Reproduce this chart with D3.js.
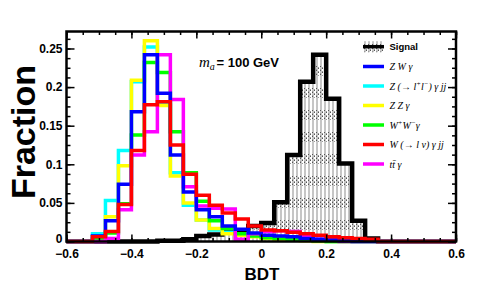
<!DOCTYPE html>
<html><head><meta charset="utf-8">
<script src="https://cdn.jsdelivr.net/npm/d3@7"></script>
<style>body{margin:0;background:#fff;} svg{display:block;}</style>
</head><body>
<svg id="c" width="477" height="307"></svg>
<script>
// ---- data ----
const binEdges = [-0.6,-0.56,-0.52,-0.48,-0.44,-0.4,-0.36,-0.32,-0.28,-0.24,-0.2,-0.16,-0.12,-0.08,-0.04,0,
                  0.04,0.08,0.12,0.16,0.2,0.24,0.28,0.32,0.36,0.4,0.44,0.48,0.52,0.56,0.6];
const signal = [0,0,0,0,0,0,0,0.001,0.001,0.003,0.007,0.009,0.012,0.014,0.02,0.024,0.051,0.112,0.207,0.242,0.185,0.101,0.027,0.004,0,0,0,0,0,0];
const zwg    = [0,0,0.007,0.027,0.074,0.168,0.242,0.192,0.112,0.064,0.041,0.032,0.02,0.016,0.011,0.008,0.007,0.006,0.004,0.003,0.002,0.001,0,0,0,0,0,0,0,0];
const zllgjj = [0,0,0.01,0.053,0.118,0.207,0.252,0.177,0.089,0.047,0.028,0.015,0.012,0.01,0.008,0.006,0.004,0.003,0.002,0.001,0,0,0,0,0,0,0,0,0,0];
const zzg    = [0,0,0.006,0.032,0.098,0.209,0.26,0.176,0.085,0.05,0.028,0.017,0.01,0.008,0.006,0.004,0.003,0.002,0.001,0,0,0,0,0,0,0,0,0,0,0];
const wwg    = [0,0,0.003,0.011,0.049,0.138,0.232,0.219,0.142,0.089,0.052,0.027,0.017,0.01,0.007,0.005,0.004,0.003,0.002,0.001,0,0,0,0,0,0,0,0,0,0];
const wlvgjj = [0,0,0.006,0.013,0.048,0.118,0.177,0.181,0.125,0.087,0.06,0.047,0.037,0.029,0.02,0.015,0.014,0.012,0.01,0.008,0.006,0.005,0.004,0.003,0,0,0,0,0,0];
const ttg    = [0,0,0,0.004,0.041,0.112,0.142,0.242,0.184,0.071,0.046,0.043,0.042,0.003,0.01,0.013,0.014,0.013,0.006,0.003,0.002,0,0,0,0,0,0,0,0,0];
const seriesLabels = ["Signal","Z W γ","Z (→ l^{+}l^{−}) γ jj","Z Z γ","W^{+}W^{−}γ","W (→ l ν) γ jj","tt\u0304 γ"];
const xTicks = [-0.6,-0.4,-0.2,0,0.2,0.4,0.6];
const yTicks = [0,0.05,0.1,0.15,0.2,0.25];

// ---- layout ----
const svg = d3.select("#c");
const L=66.5, R=456, T=31.5, B=241.5;
const x = d3.scaleLinear().domain([-0.6,0.6]).range([L,R]);
const y = d3.scaleLinear().domain([0,0.272]).range([B,T]);

// pattern for signal fill
const defs = svg.append("defs");
const pat = defs.append("pattern").attr("id","sigfill").attr("patternUnits","userSpaceOnUse")
  .attr("width",4).attr("height",22);
pat.append("rect").attr("width",4).attr("height",22).attr("fill","#fff");
pat.append("rect").attr("x",0).attr("y",0).attr("width",2).attr("height",22).attr("fill","#c6c6c6");
for (let r=0;r<10;r+=2){
  pat.append("rect").attr("x",(r%4===0)?0:2).attr("y",r).attr("width",1).attr("height",1).attr("fill","#555");
  pat.append("rect").attr("x",(r%4===0)?2:0).attr("y",r+1).attr("width",1).attr("height",1).attr("fill","#999");
}

function stepPoints(vals){
  const pts=[[x(binEdges[0]),y(0)]];
  vals.forEach((v,i)=>{pts.push([x(binEdges[i]),y(v)]);pts.push([x(binEdges[i+1]),y(v)]);});
  pts.push([x(binEdges[binEdges.length-1]),y(0)]);
  return pts;
}
const line = d3.line();

// signal fill + outline
svg.append("path").attr("d",line(stepPoints(signal))+"Z").attr("fill","url(#sigfill)").attr("stroke","none");
svg.append("path").attr("d",line(stepPoints(signal))).attr("fill","none").attr("stroke","#000").attr("stroke-width",4.5).attr("stroke-linejoin","miter");

const bkg = [[zllgjj,"#00ffff"],[zzg,"#ffff00"],[wwg,"#00ff00"],[ttg,"#ff00ff"],[zwg,"#0000ff"],[wlvgjj,"#ff0000"]];
bkg.forEach(([vals,col])=>{
  svg.append("path").attr("d",line(stepPoints(vals))).attr("fill","none").attr("stroke",col).attr("stroke-width",3.5);
});

// ---- axes ----
const fmtX = d=> d===0?"0":(d<0?"\u2212":"")+Math.abs(d).toFixed(1);
const fmtY = d=> d===0?"0":String(+d.toFixed(2));
const xMinor = d3.range(0,25).map(i=>-0.6+i*0.05);
const yMinor = d3.range(0,22).map(i=>i*0.0125);
function styleAx(g){g.select(".domain").remove();g.selectAll("line").attr("stroke","#000").attr("stroke-width",1.5);
  g.selectAll("text").attr("fill","#000").attr("font-family","Liberation Sans, Arial, sans-serif").attr("font-size",12).attr("font-weight","bold");}
svg.append("g").attr("transform",`translate(0,${B})`).call(d3.axisBottom(x).tickValues(xTicks).tickFormat(fmtX).tickSizeInner(-7).tickSizeOuter(0).tickPadding(8)).call(styleAx);
svg.append("g").attr("transform",`translate(0,${B})`).call(d3.axisBottom(x).tickValues(xMinor).tickFormat("").tickSizeInner(-3.5).tickSizeOuter(0)).call(styleAx);
svg.append("g").attr("transform",`translate(0,${T})`).call(d3.axisTop(x).tickValues(xTicks).tickFormat("").tickSizeInner(-7).tickSizeOuter(0)).call(styleAx);
svg.append("g").attr("transform",`translate(0,${T})`).call(d3.axisTop(x).tickValues(xMinor).tickFormat("").tickSizeInner(-3.5).tickSizeOuter(0)).call(styleAx);
const yAx = svg.append("g").attr("transform",`translate(${L},0)`).call(d3.axisLeft(y).tickValues(yTicks).tickFormat(fmtY).tickSizeInner(-8).tickSizeOuter(0).tickPadding(4)).call(styleAx);
yAx.selectAll(".tick").filter(d=>d===0).select("text").attr("dy","0.1em");
svg.append("g").attr("transform",`translate(${L},0)`).call(d3.axisLeft(y).tickValues(yMinor).tickFormat("").tickSizeInner(-4).tickSizeOuter(0)).call(styleAx);
svg.append("g").attr("transform",`translate(${R},0)`).call(d3.axisRight(y).tickValues(yTicks).tickFormat("").tickSizeInner(-8).tickSizeOuter(0)).call(styleAx);
svg.append("g").attr("transform",`translate(${R},0)`).call(d3.axisRight(y).tickValues(yMinor).tickFormat("").tickSizeInner(-4).tickSizeOuter(0)).call(styleAx);
svg.append("rect").attr("x",L).attr("y",T).attr("width",R-L).attr("height",B-T).attr("fill","none").attr("stroke","#000").attr("stroke-width",2.5);

// titles
svg.append("text").attr("x",262).attr("y",280).attr("text-anchor","middle")
  .attr("font-family","Liberation Sans, Arial, sans-serif").attr("font-weight","bold").attr("font-size",17).text("BDT");
svg.append("text").attr("transform","translate(35,132) rotate(-90)").attr("text-anchor","middle")
  .attr("font-family","Liberation Sans, Arial, sans-serif").attr("font-weight","bold").attr("font-size",34).text("Fraction");

// m_a label
const ml = svg.append("text").attr("x",199).attr("y",67);
ml.append("tspan").attr("font-family","Liberation Serif, Times New Roman, serif").attr("font-style","italic").attr("font-size",15).text("m");
ml.append("tspan").attr("font-family","Liberation Serif, Times New Roman, serif").attr("font-style","italic").attr("font-size",10).attr("dy",3).text("a");
ml.append("tspan").attr("x",216.5).attr("dy",-3).attr("font-family","Liberation Sans, Arial, sans-serif").attr("font-weight","bold").attr("font-size",13).text("= 100 GeV");

// ---- legend ----
const legY = [46.7,66.5,86,105.5,125,144.5,164];
const legCols = ["#000","#0000ff","#00ffff","#ffff00","#00ff00","#ff0000","#ff00ff"];
seriesLabels.forEach((lab,i)=>{
  const yy = legY[i];
  if(i===0){
    svg.append("rect").attr("x",363).attr("y",yy-5.5).attr("width",21).attr("height",11).attr("fill","url(#sigfill)");
    svg.append("line").attr("x1",363).attr("x2",384).attr("y1",yy).attr("y2",yy).attr("stroke","#000").attr("stroke-width",3.5);
    svg.append("text").attr("x",389.5).attr("y",yy).attr("dy","0.35em").attr("font-family","Liberation Sans, Arial, sans-serif")
      .attr("font-weight","bold").attr("font-size",9.5).text(lab);
  } else {
    svg.append("line").attr("x1",363).attr("x2",384).attr("y1",yy).attr("y2",yy).attr("stroke",legCols[i]).attr("stroke-width",3.5);
    const t = svg.append("text").attr("x",389.5).attr("y",yy).attr("dy","0.35em")
      .attr("font-family","Liberation Serif, Times New Roman, serif").attr("font-style","italic").attr("font-size",10);
    const parts = lab.split(/(\^\{[^}]*\})/).filter(s=>s.length);
    parts.forEach(p=>{
      if(p.startsWith("^{")) t.append("tspan").attr("baseline-shift","super").attr("font-size",7).text(p.slice(2,-1));
      else t.append("tspan").text(p);
    });
  }
});
</script>
</body></html>
